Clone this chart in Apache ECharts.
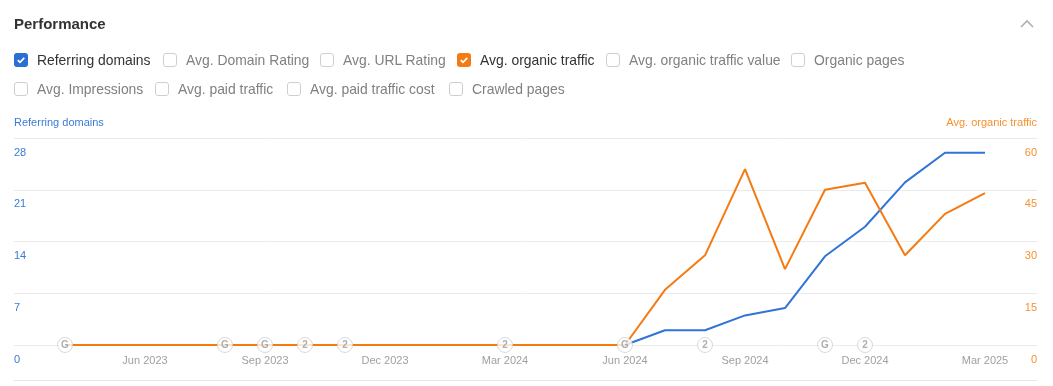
<!DOCTYPE html>
<html>
<head>
<meta charset="utf-8">
<script src="https://cdn.jsdelivr.net/npm/echarts/dist/echarts.min.js"></script>
<style>
  html, body { margin: 0; padding: 0; background: #fff; }
  body { width: 1053px; height: 386px; position: relative; overflow: hidden;
         font-family: "Liberation Sans", Arial, Helvetica, sans-serif; }
  #chart { position: absolute; left: 0; top: 0; width: 1053px; height: 386px; }
  .title { position: absolute; left: 14px; top: 15px; font-size: 15px; font-weight: bold; color: #333; }
  .cb { position: absolute; height: 16px; display: flex; align-items: center; white-space: nowrap;
        font-size: 13.9px; color: #808080; }
  .cb .box { width: 12px; height: 12px; border: 1px solid #cfcfcf; border-radius: 3px; margin-right: 9px;
             box-sizing: content-box; display: flex; align-items: center; justify-content: center; }
  .cb.on { color: #333; }
  .cb.on .box { border-color: transparent; }
  .sep { position: absolute; left: 14px; top: 380px; width: 1023px; height: 1px; background: #e6e6e6; }
</style>
</head>
<body>
<div id="chart"></div>
<div class="title">Performance</div>
<svg style="position:absolute;left:1019px;top:18px" width="16" height="12">
  <polyline points="2,9 8,3 14,9" fill="none" stroke="#b0b0b0" stroke-width="1.6"/>
</svg>
<div id="checks"></div>
<div class="sep"></div>
<script>
// ---- data ----
const months = ['Apr 2023','May 2023','Jun 2023','Jul 2023','Aug 2023','Sep 2023','Oct 2023','Nov 2023','Dec 2023',
  'Jan 2024','Feb 2024','Mar 2024','Apr 2024','May 2024','Jun 2024','Jul 2024','Aug 2024','Sep 2024','Oct 2024',
  'Nov 2024','Dec 2024','Jan 2025','Feb 2025','Mar 2025'];
const xTickLabels = ['Jun 2023','Sep 2023','Dec 2023','Mar 2024','Jun 2024','Sep 2024','Dec 2024','Mar 2025'];
const referringDomains = [0,0,0,0,0,0,0,0,0,0,0,0,0,0,0,2,2,4,5,12,16,22,26,26];
const organicTraffic   = [0,0,0,0,0,0,0,0,0,0,0,0,0,0,0,16,26,51,22,45,47,26,38,44];
const leftTicks = [0,7,14,21,28];
const rightTicks = [0,15,30,45,60];
const annotationMonths = ['Apr 2023','Aug 2023','Sep 2023','Oct 2023','Nov 2023','Mar 2024','Jun 2024','Aug 2024','Nov 2024','Dec 2024'];
const annotationLabels = ['G','G','G','2','2','2','G','2','G','2'];
const checkboxRow1 = ['Referring domains','Avg. Domain Rating','Avg. URL Rating','Avg. organic traffic','Avg. organic traffic value','Organic pages'];
const checkboxRow2 = ['Avg. Impressions','Avg. paid traffic','Avg. paid traffic cost','Crawled pages'];
const checkedItems = {'Referring domains': '#2a6fd6', 'Avg. organic traffic': '#f47a12'};

// ---- checkboxes ----
const row1X = [14,163,320,457,606,791];
const row2X = [14,155,287,449];
function addRow(labels, xs, top) {
  const host = document.getElementById('checks');
  labels.forEach((t, i) => {
    const d = document.createElement('div');
    const col = checkedItems[t];
    d.className = 'cb' + (col ? ' on' : '');
    d.style.left = xs[i] + 'px';
    d.style.top = top + 'px';
    const box = document.createElement('div');
    box.className = 'box';
    if (col) {
      box.style.background = col;
      box.innerHTML = '<svg width="10" height="10" viewBox="0 0 10 10"><polyline points="1.8,5.2 4,7.3 8.3,2.8" fill="none" stroke="#fff" stroke-width="1.7"/></svg>';
    }
    d.appendChild(box);
    const s = document.createElement('span');
    s.textContent = t;
    d.appendChild(s);
    host.appendChild(d);
  });
}
addRow(checkboxRow1, row1X, 52);
addRow(checkboxRow2, row2X, 81);

// ---- chart ----
const BLUE = '#2f74d6', ORANGE = '#f47a12';
const tickIdx = xTickLabels.map(l => months.indexOf(l));
const chart = echarts.init(document.getElementById('chart'), null, {renderer: 'canvas'});
chart.setOption({
  animation: false,
  grid: { left: 14, right: 16, top: 138, bottom: 41, containLabel: false },
  xAxis: {
    type: 'value', min: -1.275, max: 24.3,
    axisLine: { show: false, onZero: false }, axisTick: { show: false }, splitLine: { show: false },
    axisLabel: { customValues: tickIdx, formatter: v => months[Math.round(v)], color: '#a0a0a0', fontSize: 11, margin: 10,
                 fontFamily: 'Liberation Sans, Arial' }
  },
  yAxis: [
    { type: 'value', min: leftTicks[0], max: leftTicks[leftTicks.length-1], interval: leftTicks[1]-leftTicks[0], position: 'left',
      name: 'Referring domains', nameLocation: 'end', nameGap: 10,
      nameTextStyle: { color: '#3a7bd5', fontSize: 11, align: 'left', verticalAlign: 'bottom', fontFamily: 'Liberation Sans, Arial' },
      axisLine: { show: false, onZero: false }, axisTick: { show: false },
      splitLine: { lineStyle: { color: '#ebebeb', width: 1 } },
      axisLabel: { inside: true, margin: 0, align: 'left', verticalAlign: 'top', padding: [9,0,0,0], color: '#3a7bd5', fontSize: 11,
                   fontFamily: 'Liberation Sans, Arial' } },
    { type: 'value', min: rightTicks[0], max: rightTicks[rightTicks.length-1], interval: rightTicks[1]-rightTicks[0], position: 'right',
      name: 'Avg. organic traffic', nameLocation: 'end', nameGap: 10,
      nameTextStyle: { color: '#f5922f', fontSize: 11, align: 'right', verticalAlign: 'bottom', fontFamily: 'Liberation Sans, Arial' },
      axisLine: { show: false, onZero: false }, axisTick: { show: false }, splitLine: { show: false },
      axisLabel: { inside: true, margin: 0, align: 'right', verticalAlign: 'top', padding: [9,0,0,0], color: '#f5922f', fontSize: 11,
                   fontFamily: 'Liberation Sans, Arial' } }
  ],
  series: [
    { type: 'line', name: 'Referring domains', yAxisIndex: 0, showSymbol: false, z: 3,
      lineStyle: { color: BLUE, width: 2 }, itemStyle: { color: BLUE },
      data: referringDomains.map((v, i) => [i, v]) },
    { type: 'line', name: 'Avg. organic traffic', yAxisIndex: 1, showSymbol: false, z: 4,
      lineStyle: { color: ORANGE, width: 2 }, itemStyle: { color: ORANGE },
      data: organicTraffic.map((v, i) => [i, v]) },
    { type: 'scatter', yAxisIndex: 0, symbol: 'circle', symbolSize: 15, z: 10,
      itemStyle: { color: '#fff', borderColor: '#cfcfcf', borderWidth: 1 },
      label: { show: true, position: 'inside', formatter: p => p.value[2], color: '#9a9a9a', fontSize: 10, fontWeight: 'bold',
               fontFamily: 'Liberation Sans, Arial' },
      data: annotationMonths.map((m, i) => [months.indexOf(m), 0, annotationLabels[i]]) }
  ]
});
</script>
</body>
</html>
